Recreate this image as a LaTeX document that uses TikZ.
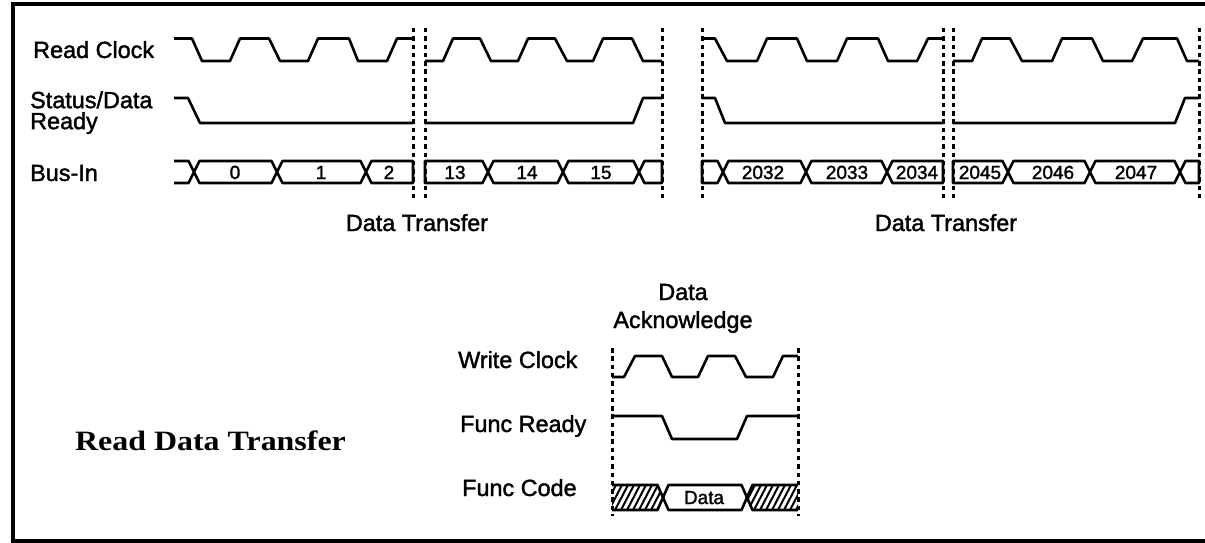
\documentclass[tikz,border=0pt]{standalone}
\usepackage{fontspec}
\usepackage{graphicx}
\setmainfont{Liberation Sans}[FakeBold=1.6]
\newfontfamily\rdtfont{Liberation Serif}
\begin{document}
\begin{tikzpicture}[x=1pt,y=-1pt,
  wave/.style={line width=2.6pt, line join=round},
  vdots/.style={line width=3pt, dash pattern=on 4.5pt off 3.8pt},
  lbl/.style={anchor=base west, inner sep=0pt, align=left, font=\fontsize{23.4}{21}\selectfont},
  ctr/.style={anchor=base, inner sep=0pt, align=center, font=\fontsize{23.4}{28}\selectfont},
  bustxt/.style={anchor=base, inner sep=0pt, font=\fontsize{19}{19}\selectfont},
  hatch/.style={line width=2pt}]
\useasboundingbox (0,0) rectangle (1205,543);
% frame (right side cut off)
\draw[line width=3.2pt] (1205,4) -- (13,4) -- (13,541) -- (1205,541);

% labels top
\node[lbl] (lrc) at (33,58) {Read Clock};
\node[lbl, anchor=north west] (lsd) at (30,91) {Status/Data\\Ready};
\node[lbl] (lbi) at (30,181) {Bus-In};

% dotted separators top
\foreach \x/\n in {413/d1,425/d2,662/d3,702/d4,943/d5,953/d6,1199/d7}{
  \coordinate (\n t) at (\x,28);
  \coordinate (\n b) at (\x,198);
  \draw[vdots] (\n t) -- (\n b);
}

% Read clock
\draw[wave] (174,38.5) -- (192,38.5) -- (202,61) -- (230,61) -- (240,38.5) -- (269,38.5) -- (280,61) -- (308,61) -- (318,38.5) -- (349,38.5) -- (358,61) -- (387,61) -- (397,38.5) -- (413,38.5);
\draw[wave] (425,61) -- (443,61) -- (453,38.5) -- (480,38.5) -- (491,61) -- (518,61) -- (528,38.5) -- (555,38.5) -- (567,61) -- (593,61) -- (603,38.5) -- (632,38.5) -- (643,61) -- (662,61);
\draw[wave] (702,38.5) -- (715,38.5) -- (727,61) -- (757,61) -- (767,38.5) -- (797,38.5) -- (807,61) -- (837,61) -- (847,38.5) -- (878,38.5) -- (888,61) -- (917,61) -- (928,38.5) -- (943,38.5);
\draw[wave] (953,61) -- (972,61) -- (982,38.5) -- (1010,38.5) -- (1022,61) -- (1052,61) -- (1062,38.5) -- (1092,38.5) -- (1103,61) -- (1132,61) -- (1143,38.5) -- (1177,38.5) -- (1187,61) -- (1199,61);

% Status/Data Ready
\draw[wave] (174,98) -- (188,98) -- (200,123) -- (413,123);
\draw[wave] (425,123) -- (633,123) -- (643,98) -- (662,98);
\draw[wave] (702,98) -- (715,98) -- (725,123) -- (943,123);
\draw[wave] (953,123) -- (1175,123) -- (1185,98) -- (1199,98);

% Bus-In
\draw[wave] (174,161) -- (188.5,161) -- (199.5,183) -- (271.5,183) -- (282.5,161) -- (360.5,161) -- (371.5,183) -- (413,183) -- (413,161) -- (371.5,161) -- (360.5,183) -- (282.5,183) -- (271.5,161) -- (199.5,161) -- (188.5,183) -- (174,183);
\draw[wave] (425,161) -- (482.5,161) -- (493.5,183) -- (557.5,183) -- (568.5,161) -- (633.5,161) -- (644.5,183) -- (662,183) -- (662,161) -- (644.5,161) -- (633.5,183) -- (568.5,183) -- (557.5,161) -- (493.5,161) -- (482.5,183) -- (425,183) -- cycle;
\draw[wave] (702,161) -- (717.5,161) -- (728.5,183) -- (800.5,183) -- (811.5,161) -- (881.5,161) -- (892.5,183) -- (943,183) -- (943,161) -- (892.5,161) -- (881.5,183) -- (811.5,183) -- (800.5,161) -- (728.5,161) -- (717.5,183) -- (702,183) -- cycle;
\draw[wave] (953,161) -- (1002.5,161) -- (1013.5,183) -- (1084.5,183) -- (1095.5,161) -- (1174.5,161) -- (1185.5,183) -- (1199,183) -- (1199,161) -- (1185.5,161) -- (1174.5,183) -- (1095.5,183) -- (1084.5,161) -- (1013.5,161) -- (1002.5,183) -- (953,183) -- cycle;

% Bus values
\node[bustxt] (b0) at (235,179) {0};
\node[bustxt] (b1) at (321,179) {1};
\node[bustxt] (b2) at (389,179) {2};
\node[bustxt] (b13) at (455,179) {13};
\node[bustxt] (b14) at (527,179) {14};
\node[bustxt] (b15) at (601,179) {15};
\node[bustxt] (b2032) at (763,179) {2032};
\node[bustxt] (b2033) at (847,179) {2033};
\node[bustxt] (b2034) at (917,179) {2034};
\node[bustxt] (b2045) at (980,179) {2045};
\node[bustxt] (b2046) at (1053,179) {2046};
\node[bustxt] (b2047) at (1136,179) {2047};

% Data Transfer labels
\node[ctr] (dt1) at (417,231) {Data Transfer};
\node[ctr] (dt2) at (946,231) {Data Transfer};

% bottom section
\node[ctr] (dack1) at (683,300) {Data};
\node[ctr] (dack2) at (683,328) {Acknowledge};
\node[lbl] (lwc) at (458,368) {Write Clock};
\node[lbl] (lfr) at (460,432) {Func Ready};
\node[lbl] (lfc) at (462,496) {Func Code};
\node[anchor=base west, inner sep=0pt, font=\rdtfont\bfseries\fontsize{28}{30}\selectfont] (rdt) at (75,450) {\scalebox{1.14}[1]{Read Data Transfer}};

\foreach \x/\n in {612/e1,798/e2}{
  \coordinate (\n t) at (\x,348);
  \coordinate (\n b) at (\x,516);
  \draw[vdots] (\n t) -- (\n b);
}

\draw[wave] (612,377) -- (624,377) -- (635,356) -- (662,356) -- (672,377) -- (698,377) -- (708,356) -- (735,356) -- (746,377) -- (773,377) -- (783,356) -- (798,356);
\draw[wave] (612,416) -- (662,416) -- (672,439) -- (737,439) -- (747,416) -- (798,416);

% Func Code hatching
\begin{scope}
  \clip (612,485) -- (657.5,485) -- (663,497.5) -- (657.5,510) -- (612,510) -- cycle;
  \foreach \x in {596,602,...,670} \draw[hatch] (\x,512) -- (\x+15,483);
\end{scope}
\begin{scope}
  \clip (798,485) -- (752.5,485) -- (747,497.5) -- (752.5,510) -- (798,510) -- cycle;
  \foreach \x in {735,741,...,810} \draw[hatch] (\x,512) -- (\x+15,483);
\end{scope}
\draw[wave] (612,485) -- (657.5,485) -- (668.5,510) -- (741.5,510) -- (752.5,485) -- (798,485);
\draw[wave] (612,510) -- (657.5,510) -- (668.5,485) -- (741.5,485) -- (752.5,510) -- (798,510);
\node[bustxt] (fdata) at (704,504) {Data};
\end{tikzpicture}
\end{document}
